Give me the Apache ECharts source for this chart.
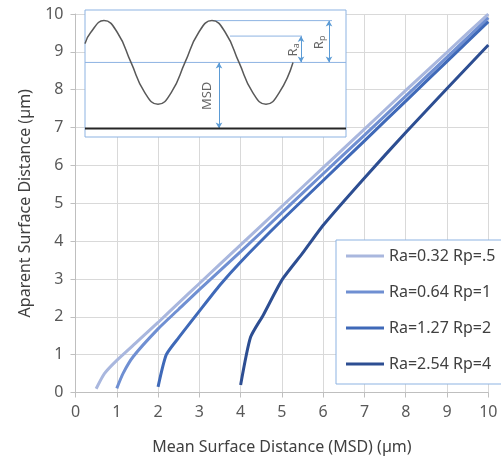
<!DOCTYPE html>
<html>
<head>
<meta charset="utf-8">
<script src="https://cdn.jsdelivr.net/npm/echarts@6/dist/echarts.min.js"></script>
<style>html,body{margin:0;padding:0;background:#fff}#c{width:501px;height:461px}</style>
</head>
<body>
<div id="c"></div>
<script>
// ---- main chart data ----
const seriesNames = ['Ra=0.32 Rp=.5', 'Ra=0.64 Rp=1', 'Ra=1.27 Rp=2', 'Ra=2.54 Rp=4'];
const s1 = [[0.5,0.1],[0.7,0.5],[1,0.85],[1.5,1.35],[2,1.85],[2.5,2.37],[3,2.88],[4,3.9],[5,4.92],[6,5.94],[7,6.96],[8,7.98],[9,8.99],[10,10]];
const s2 = [[1,0.11],[1.15,0.5],[1.4,0.95],[2,1.68],[2.5,2.2],[3,2.72],[4,3.72],[5,4.75],[6,5.78],[7,6.8],[8,7.83],[9,8.86],[10,9.9]];
const s3 = [[2,0.15],[2.2,1.0],[2.5,1.45],[3,2.15],[3.5,2.84],[4,3.45],[5,4.55],[6,5.6],[7,6.65],[8,7.7],[9,8.75],[10,9.8]];
const s4 = [[4,0.2],[4.24,1.46],[4.55,2.05],[5,2.97],[5.5,3.68],[6,4.42],[7,5.67],[8,6.87],[9,8.03],[10,9.18]];
const xTicks = [0,1,2,3,4,5,6,7,8,9,10];
const yTicks = [0,1,2,3,4,5,6,7,8,9,10];
const colors = ['#a9b7de', '#6f8fd2', '#3f69b8', '#2d4e92'];

// ---- inset schematic data ----
const wave = [[0,0.45],[5.5,0.71],[19,1],[32.5,0.71],[46,0],[59.5,-0.71],[73,-1],[86.5,-0.71],[100,0],[113.5,0.71],[127,1],[140.5,0.71],[154,0],[167.5,-0.71],[181,-1],[194.5,-0.71],[208,0]];
const meanLine = [[0,0],[261,0]];
const baseLine = [[0,-1.58],[261,-1.58]];
const raLine = [[145,0.63],[217,0.63]];
const rpLine = [[127,1],[247,1]];
const arrows = [[134,0,-1.58],[216,0,0.63],[244,0,1]];
const insetLabels = [[122,-0.8,'MSD'],[208,0.3,'Ra'],[234,0.48,'Rp']];

const font = 'Noto Sans';
const chart = echarts.init(document.getElementById('c'), null, {renderer:'canvas'});

const mainSeries = [s1,s2,s3,s4].map((d,i)=>({
  name: seriesNames[i], type:'line', data:d, xAxisIndex:0, yAxisIndex:0,
  showSymbol:false, symbol:'none', smooth:0.2, z:3,
  lineStyle:{color:colors[i], width:3}, itemStyle:{color:colors[i]}
}));

const blue = '#8db3e2';
const insetSeries = [
  {type:'line', data:meanLine, xAxisIndex:1, yAxisIndex:1, symbol:'none', z:6, silent:true, lineStyle:{color:blue, width:1}},
  {type:'line', data:baseLine, xAxisIndex:1, yAxisIndex:1, symbol:'none', z:6, silent:true, lineStyle:{color:'#262626', width:2}},
  {type:'line', data:raLine, xAxisIndex:1, yAxisIndex:1, symbol:'none', z:6, silent:true, lineStyle:{color:blue, width:1}},
  {type:'line', data:rpLine, xAxisIndex:1, yAxisIndex:1, symbol:'none', z:6, silent:true, lineStyle:{color:blue, width:1},
    markLine:{silent:true, symbol:['arrow','arrow'], symbolSize:[5,6], animation:false,
      lineStyle:{color:'#5b9bd5', width:1, type:'solid'}, label:{show:false},
      data: arrows.map(a=>[{coord:[a[0],a[1]]},{coord:[a[0],a[2]]}])}},
  {type:'line', data:wave, xAxisIndex:1, yAxisIndex:1, symbol:'none', smooth:0.5, z:7, silent:true, lineStyle:{color:'#595959', width:1.5}},
  {type:'scatter', data:insetLabels, xAxisIndex:1, yAxisIndex:1, symbolSize:1, z:8, silent:true,
    itemStyle:{color:'rgba(0,0,0,0)'},
    label:{show:true, position:'inside', rotate:90, color:'#404040', fontFamily:font, fontSize:13,
      formatter: p => { const t = p.data[2]; return t==='MSD' ? 'MSD' : '{r|R}{s|' + t.slice(1) + '}'; },
      rich:{r:{fontSize:13, fontFamily:font, color:'#404040'}, s:{fontSize:9, fontFamily:font, color:'#404040', verticalAlign:'bottom', padding:[6,0,0,0]}}}}
];

chart.setOption({
  animation:false,
  backgroundColor:'#fff',
  textStyle:{fontFamily:font},
  legend:{
    data: seriesNames, orient:'vertical', left:336, top:240,
    backgroundColor:'#fff', borderColor:'#8db3e2', borderWidth:1,
    padding:[6,10,10,10], itemWidth:38, itemHeight:3, itemGap:16, icon:'rect',
    textStyle:{fontFamily:font, fontSize:16, color:'#404040', lineHeight:20}
  },
  grid:[
    {left:75.5, right:12.7, top:14, bottom:68.5, z:0},
    {left:85, top:10, width:261, height:127, show:true, backgroundColor:'#fff', borderColor:'#8db3e2', borderWidth:1, z:5}
  ],
  xAxis:[
    {type:'value', gridIndex:0, min:xTicks[0], max:xTicks[xTicks.length-1], interval:1,
      name:'Mean Surface Distance (MSD) (µm)', nameLocation:'middle', nameGap:47,
      nameTextStyle:{fontFamily:font, fontSize:16, color:'#404040'},
      axisLine:{lineStyle:{color:'#bfbfbf'}}, axisTick:{show:true, length:5, lineStyle:{color:'#bfbfbf'}},
      axisLabel:{fontFamily:font, fontSize:16, color:'#595959', margin:12},
      splitLine:{show:true, lineStyle:{color:'#d9d9d9'}}},
    {type:'value', gridIndex:1, min:0, max:261, show:false}
  ],
  yAxis:[
    {type:'value', gridIndex:0, min:yTicks[0], max:yTicks[yTicks.length-1], interval:1,
      name:'Aparent Surface Distance (µm)', nameLocation:'middle', nameGap:42,
      nameTextStyle:{fontFamily:font, fontSize:16, color:'#404040'},
      axisLine:{show:true, lineStyle:{color:'#bfbfbf'}}, axisTick:{show:true, length:5, lineStyle:{color:'#bfbfbf'}},
      axisLabel:{fontFamily:font, fontSize:16, color:'#595959', margin:12},
      splitLine:{show:true, lineStyle:{color:'#d9d9d9'}}},
    {type:'value', gridIndex:1, min:-1.784, max:1.254, show:false}
  ],
  series: mainSeries.concat(insetSeries)
});
</script>
</body>
</html>
